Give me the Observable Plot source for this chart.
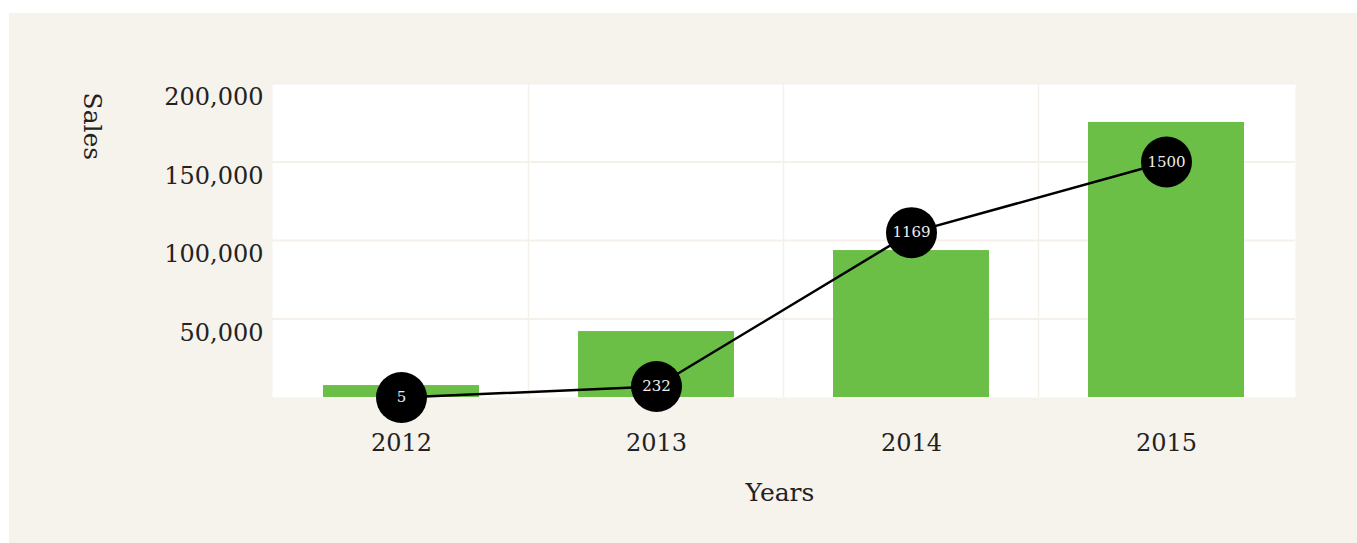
<!DOCTYPE html>
<html>
<head>
<meta charset="utf-8">
<script src="https://cdn.jsdelivr.net/npm/d3@7"></script>
<script src="https://cdn.jsdelivr.net/npm/@observablehq/plot@0.6"></script>
<style>
  html, body { margin: 0; padding: 0; background: #ffffff; }
  #panel { position: absolute; left: 9px; top: 13px; width: 1348px; height: 530px; background: #f6f2ec; }
</style>
</head>
<body>
<div id="panel"></div>
<script>
const years = ["2012", "2013", "2014", "2015"];
const sales = [7600, 42000, 93600, 175200];
const linePos = [0, 7000, 105000, 150000];
const counts = [5, 232, 1169, 1500];
const yTicks = [50000, 100000, 150000, 200000];
const xTitle = "Years";
const yTitle = "Sales";

const data = years.map((year, i) => ({year, sales: sales[i], pos: linePos[i], count: counts[i]}));

const fontFamily = "'Roboto Slab', 'DejaVu Serif', serif";
const gridColor = "#f5f1ea";

const chart = Plot.plot({
  width: 1348,
  height: 530,
  marginLeft: 263,
  marginRight: 62,
  marginTop: 70,
  marginBottom: 146,
  style: {background: "transparent", fontFamily, fontSize: "24px", color: "#222"},
  x: {domain: years, paddingInner: 0.39, paddingOuter: 0.195},
  y: {domain: [0, 200000]},
  marks: [
    Plot.frame({fill: "white", stroke: "none"}),
    Plot.gridY(yTicks, {stroke: gridColor, strokeOpacity: 1, strokeWidth: 2}),
    Plot.ruleX(years.slice(1), {dx: -128, stroke: gridColor, strokeWidth: 1.5}),
    Plot.barY(data, {x: "year", y: "sales", fill: "#6bbf47"}),
    Plot.line(data, {x: "year", y: "pos", stroke: "black", strokeWidth: 2.5}),
    Plot.dot(data, {x: "year", y: "pos", r: 25.5, fill: "black"}),
    Plot.text(data, {x: "year", y: "pos", text: d => String(d.count), fill: "#eeeeee", fontSize: 15}),
    Plot.axisY(yTicks, {tickSize: 0, tickPadding: 9, dy: 14, label: null, tickFormat: d3.format(",")}),
    Plot.axisX({tickSize: 0, tickPadding: 36, label: null}),
    Plot.text([xTitle], {frameAnchor: "bottom", dx: -4, dy: 103, lineAnchor: "bottom", fontSize: 25}),
    Plot.text([yTitle], {frameAnchor: "top-left", dx: -189, dy: 9, rotate: 90, textAnchor: "start", lineAnchor: "bottom", fontSize: 25})
  ]
});
document.getElementById("panel").appendChild(chart);
</script>
</body>
</html>
